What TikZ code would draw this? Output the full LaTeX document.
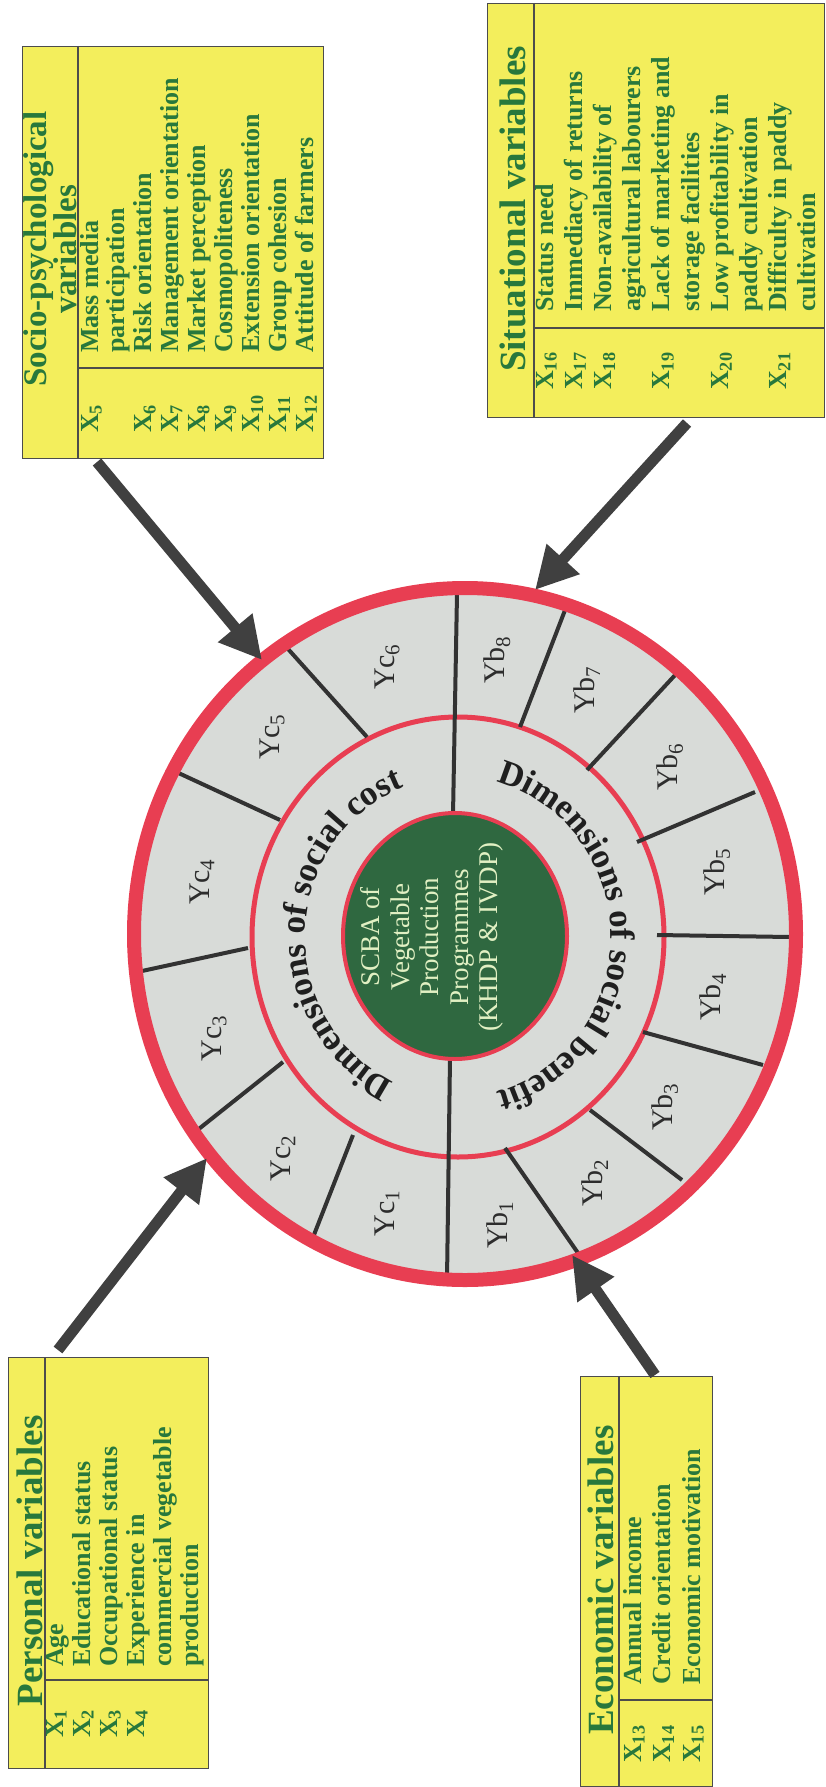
\documentclass[tikz,border=0pt]{standalone}
\usepackage{fontspec}
\setmainfont{Liberation Serif}
\usetikzlibrary{arrows.meta,decorations.text}
\definecolor{ringred}{RGB}{232,62,82}
\definecolor{ringgray}{RGB}{216,219,216}
\definecolor{dkgreen}{RGB}{47,104,64}
\definecolor{paletext}{RGB}{225,240,195}
\definecolor{boxyellow}{RGB}{243,238,92}
\definecolor{boxtext}{RGB}{40,120,60}
\definecolor{arrowgray}{RGB}{64,64,64}
\definecolor{linegray}{RGB}{50,50,50}
\definecolor{labelgray}{RGB}{45,45,45}
\newcommand\xs[1]{X\textsubscript{#1}}
\begin{document}
\begin{tikzpicture}[x=1pt,y=-1pt,
  varbox/.style={draw=black!70, line width=1.3pt, fill=boxyellow, rectangle, inner sep=0pt, anchor=north west},
  divline/.style={draw=black!70, line width=1.3pt},
  itemtxt/.style={rotate=90, anchor=base west, inner sep=0pt, text=boxtext, font=\bfseries\fontsize{26}{26}\selectfont},
  titletxt/.style={rotate=90, anchor=base, inner sep=0pt, text=boxtext, font=\bfseries\fontsize{35}{35}\selectfont},
  ylab/.style={rotate=90, inner sep=0pt, text=labelgray, font=\fontsize{30}{30}\selectfont},
  secline/.style={draw=linegray, line width=4pt},
  bigarrow/.style={draw=arrowgray, line width=11pt, -{Triangle[length=42pt,width=42pt]}},
  curvetext/.style={decorate, decoration={text along path, text align=center, text color=black!88}}
]
\useasboundingbox (0,0) rectangle (825,1787);

% ---------------- circle ----------------
\fill[ringgray] (465,934) ellipse [x radius=331pt, y radius=346pt];
\draw[ringred, line width=5pt] (458,937) ellipse [x radius=206pt, y radius=220pt];
\draw[secline] (280,640) -- (367,737);
\draw[secline] (172,770) -- (280,820);
\draw[secline] (142,971) -- (248,948);
\draw[secline] (195,1132) -- (283,1062);
\draw[secline] (310,1245) -- (353,1135);
\draw[secline] (567,605) -- (520,727);
\draw[secline] (677,673) -- (587,770);
\draw[secline] (755,792) -- (637,842);
\draw[secline] (790,937) -- (657,935);
\draw[secline] (763,1065) -- (643,1032);
\draw[secline] (682,1180) -- (590,1110);
\draw[secline] (578,1253) -- (505,1148);
\draw[secline] (457,594) -- (453,815);
\draw[secline] (447,1280) -- (450,1058);
\draw[ringred, line width=14pt] (465,934) ellipse [x radius=331pt, y radius=346pt];
\draw[ringred, line width=4pt, fill=dkgreen] (455,936) ellipse [x radius=112pt, y radius=123pt];

\node[rotate=90, align=center, inner sep=0pt, text=paletext, font=\fontsize{27}{29.5}\selectfont] (core) at (432,937)
  {SCBA of\\Vegetable\\Production\\Programmes\\(KHDP \& IVDP)};

\path[curvetext, decoration={text={|\bfseries\fontsize{35}{35}\selectfont|Dimensions of social cost}}]
  ([shift={(258:153pt and 160pt)}]458,937) arc [start angle=258, end angle=98, x radius=153pt, y radius=160pt];
\path[curvetext, decoration={text={|\bfseries\fontsize{35}{35}\selectfont|Dimensions of social benefit}}]
  ([shift={(80:153pt and 160pt)}]458,937) arc [start angle=80, end angle=-80, x radius=153pt, y radius=160pt];

\node[ylab] (yc1) at (387,1213) {Yc\textsubscript{1}};
\node[ylab] (yc2) at (283,1158) {Yc\textsubscript{2}};
\node[ylab] (yc3) at (214,1038) {Yc\textsubscript{3}};
\node[ylab] (yc4) at (202,882) {Yc\textsubscript{4}};
\node[ylab] (yc5) at (272,737) {Yc\textsubscript{5}};
\node[ylab] (yc6) at (387,667) {Yc\textsubscript{6}};
\node[ylab] (yb1) at (500,1225) {Yb\textsubscript{1}};
\node[ylab] (yb2) at (595,1183) {Yb\textsubscript{2}};
\node[ylab] (yb3) at (665,1107) {Yb\textsubscript{3}};
\node[ylab] (yb4) at (713,997) {Yb\textsubscript{4}};
\node[ylab] (yb5) at (717,872) {Yb\textsubscript{5}};
\node[ylab] (yb6) at (670,767) {Yb\textsubscript{6}};
\node[ylab] (yb7) at (587,690) {Yb\textsubscript{7}};
\node[ylab] (yb8) at (497,660) {Yb\textsubscript{8}};

% ---------------- Socio-psychological box ----------------
\node[varbox, minimum width=301pt, minimum height=412pt] (socio) at (22,46) {};
\draw[divline] (78,46) -- (78,458);
\draw[divline] (78,368) -- (323,368);
\node[titletxt, font=\bfseries\fontsize{33}{33}\selectfont] (sociot1) at (46,249) {Socio-psychological};
\node[titletxt, font=\bfseries\fontsize{33}{33}\selectfont] (sociot2) at (76,249) {variables};
\foreach \t [count=\i] in {Mass media,participation,Risk orientation,Management orientation,Market perception,Cosmopoliteness,Extension orientation,Group cohesion,Attitude of farmers}
  \node[itemtxt] (si\i) at ({98+26.9*(\i-1)},353) {\t};
\foreach \n/\v in {1/5,3/6,4/7,5/8,6/9,7/10,8/11,9/12}
  \node[itemtxt] (sx\v) at ({98+26.9*(\n-1)},433) {\xs{\v}};

% ---------------- Situational box ----------------
\node[varbox, minimum width=337pt, minimum height=414pt] (situ) at (487,3) {};
\draw[divline] (534,3) -- (534,417);
\draw[divline] (534,328) -- (824,328);
\node[titletxt, font=\bfseries\fontsize{37}{37}\selectfont] (situt) at (525,209) {Situational variables};
\foreach \t [count=\i] in {Status need,Immediacy of returns,Non-availability of,agricultural labourers,Lack of marketing and,storage facilities,Low profitability in,paddy cultivation,Difficulty in paddy,cultivation}
  \node[itemtxt] (ti\i) at ({553+29.2*(\i-1)},312) {\t};
\foreach \n/\v in {1/16,2/17,3/18,5/19,7/20,9/21}
  \node[itemtxt] (tx\v) at ({553+29.2*(\n-1)},390) {\xs{\v}};

% ---------------- Personal box ----------------
\node[varbox, minimum width=200pt, minimum height=411pt] (pers) at (8,1357) {};
\draw[divline] (45,1357) -- (45,1768);
\draw[divline] (45,1680) -- (208,1680);
\node[titletxt, font=\bfseries\fontsize{37}{37}\selectfont] (perst) at (42,1561) {Personal variables};
\foreach \t [count=\i] in {Age,Educational status,Occupational status,Experience in,commercial vegetable,production}
  \node[itemtxt] (pi\i) at ({63+27*(\i-1)},1667) {\t};
\foreach \n/\v in {1/1,2/2,3/3,4/4}
  \node[itemtxt] (px\v) at ({63+27*(\n-1)},1738) {\xs{\v}};

% ---------------- Economic box ----------------
\node[varbox, minimum width=132pt, minimum height=410pt] (econ) at (580,1376) {};
\draw[divline] (619,1376) -- (619,1786);
\draw[divline] (619,1700) -- (712,1700);
\node[titletxt, font=\bfseries\fontsize{37}{37}\selectfont] (econt) at (613,1580) {Economic variables};
\foreach \t [count=\i] in {Annual income,Credit orientation,Economic motivation}
  \node[itemtxt] (ei\i) at ({641+29.5*(\i-1)},1685) {\t};
\foreach \n/\v in {1/13,2/14,3/15}
  \node[itemtxt] (ex\v) at ({641+29.5*(\n-1)},1763) {\xs{\v}};

% ---------------- arrows ----------------
\coordinate (a1s) at (97,462);   \coordinate (a1t) at (262,660);
\coordinate (a2s) at (687,423);  \coordinate (a2t) at (535,590);
\coordinate (a3s) at (58,1350);  \coordinate (a3t) at (207,1158);
\coordinate (a4s) at (655,1375); \coordinate (a4t) at (572,1255);
\draw[bigarrow] (a1s) -- (a1t);
\draw[bigarrow] (a2s) -- (a2t);
\draw[bigarrow] (a3s) -- (a3t);
\draw[bigarrow] (a4s) -- (a4t);
\end{tikzpicture}
\end{document}
